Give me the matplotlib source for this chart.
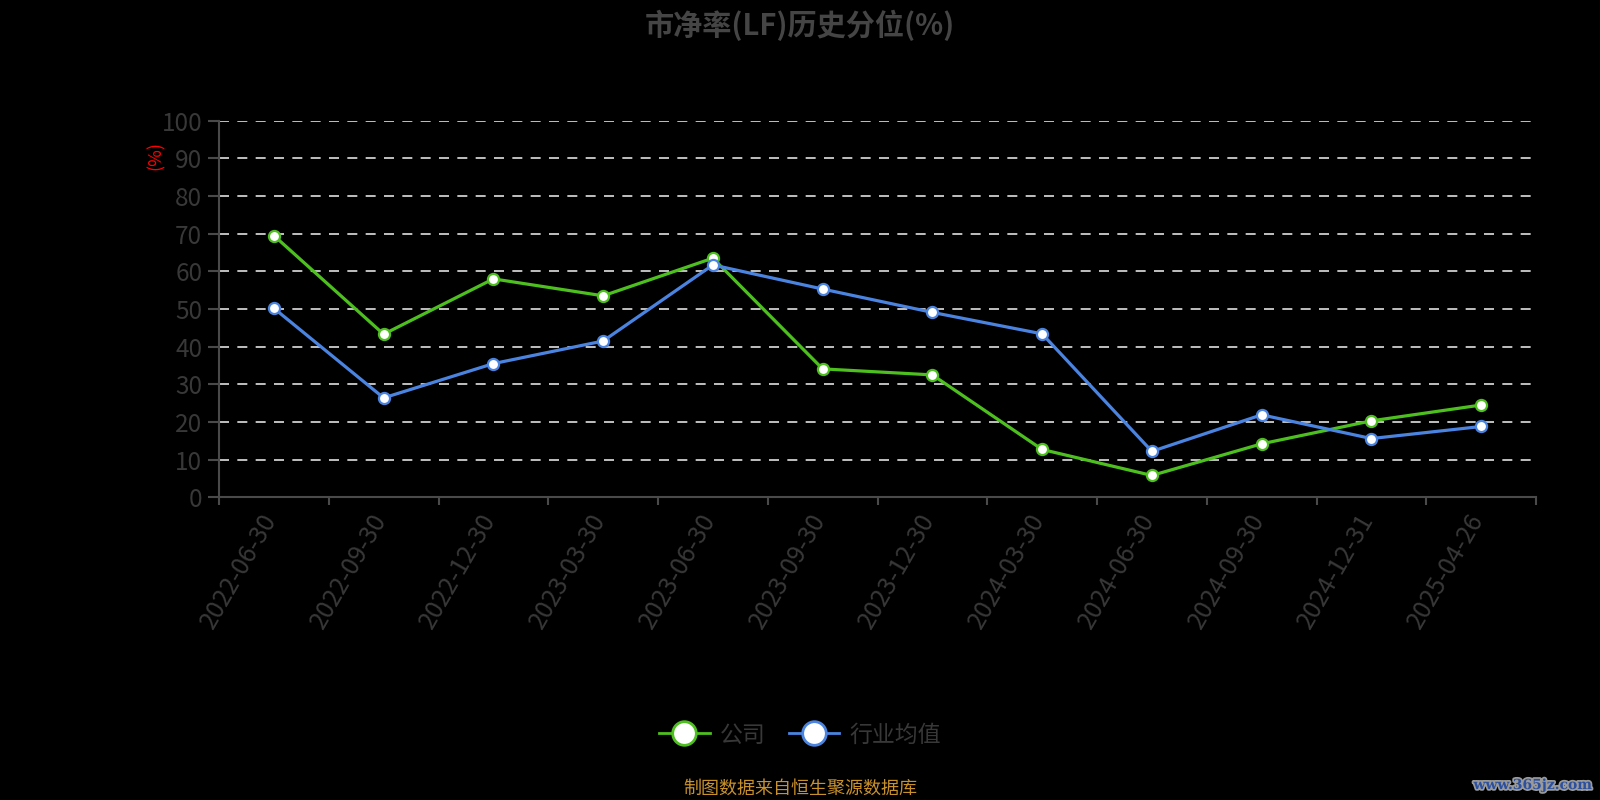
import matplotlib
matplotlib.use("Agg")
import matplotlib.pyplot as plt
from matplotlib.lines import Line2D
from matplotlib import transforms
import matplotlib.patheffects as pe

plt.rcParams['font.family'] = ['Noto Sans CJK SC', 'DejaVu Sans']

title = "市净率(LF)历史分位(%)"
dates = ["2022-06-30", "2022-09-30", "2022-12-30", "2023-03-30", "2023-06-30",
         "2023-09-30", "2023-12-30", "2024-03-30", "2024-06-30", "2024-09-30",
         "2024-12-31", "2025-04-26"]
company = [69.5, 43.3, 58.0, 53.5, 63.5, 34.1, 32.5, 12.7, 5.8, 14.2, 20.3, 24.5]
industry = [50.2, 26.4, 35.5, 41.5, 61.7, 55.3, 49.1, 43.4, 12.2, 21.9, 15.6, 18.8]
series_names = ["公司", "行业均值"]
yticks = [0, 10, 20, 30, 40, 50, 60, 70, 80, 90, 100]

GREEN = '#4dbf1f'
BLUE = '#4a84e0'
GRAY = '#383838'
AXIS = '#4a4a4a'

fig = plt.figure(figsize=(16, 8), dpi=100, facecolor='black')
ax = fig.add_axes([219/1600, 1-497.3/800, (1536-219)/1600, (497.3-120.7)/800])
ax.set_facecolor('black')

x = list(range(len(dates)))
for yv in yticks[1:]:
    ax.axhline(yv, color='#e0e0e0', lw=1.2, ls=(0, (6, 5)), zorder=1)

ax.plot(x, company, color=GREEN, lw=2.3, marker='o', ms=8, mfc='white',
        mec=GREEN, mew=1.6, zorder=3, solid_joinstyle='round')
ax.plot(x, industry, color=BLUE, lw=2.3, marker='o', ms=8, mfc='white',
        mec=BLUE, mew=1.6, zorder=3, solid_joinstyle='round')

ax.set_xlim(-0.5, len(dates)-0.5)
ax.set_ylim(0, 100)
ax.set_yticks(yticks)
ax.set_yticklabels([str(v) for v in yticks], color=GRAY, fontsize=17.5)
ax.tick_params(axis='y', length=8, width=1.5, color=AXIS, pad=4)
ax.set_xticks([i - 0.5 for i in range(len(dates)+1)])
ax.set_xticklabels([])
ax.tick_params(axis='x', length=6, width=1.5, color=AXIS)
for s in ['top', 'right']:
    ax.spines[s].set_visible(False)
for s in ['left', 'bottom']:
    ax.spines[s].set_color(AXIS)
    ax.spines[s].set_linewidth(1.5)

trans = transforms.blended_transform_factory(ax.transData, ax.transAxes)
trans = transforms.offset_copy(trans, fig=fig, x=-3, y=-18, units='dots')
for i, d in enumerate(dates):
    ax.text(i, 0, d, transform=trans, rotation=60, rotation_mode='anchor',
            ha='right', va='center', color=GRAY, fontsize=18)

fig.text(800/1600, 1-25/800, title, ha='center', va='center',
         fontsize=21, fontweight='bold', color='#454545')
fig.text(156/1600, 1-156/800, "(%)", ha='center', va='center', rotation=90,
         fontsize=13, color='red')

handles = [Line2D([0], [0], color=GREEN, lw=2, marker='o', ms=17, mfc='white', mec=GREEN, mew=2),
           Line2D([0], [0], color=BLUE, lw=2, marker='o', ms=17, mfc='white', mec=BLUE, mew=2)]
leg = fig.legend(handles, series_names, loc='center', bbox_to_anchor=(0.5, 1-735/800),
                 ncol=2, frameon=False, fontsize=16.5, handlelength=2.2,
                 handletextpad=0.45, columnspacing=1.0, borderpad=0)
for t in leg.get_texts():
    t.set_color(GRAY)

fig.text(800/1600, 1-789/800, "制图数据来自恒生聚源数据库", ha='center', va='center',
         fontsize=13, color='#c9912b')
fig.text(1592/1600, 1-785/800, "www.365jz.com", ha='right', va='center',
         fontsize=10, fontweight='bold', color='#2c4f9e', family='DejaVu Serif',
         path_effects=[pe.withStroke(linewidth=2.5, foreground='#9a9a9a')])

fig.savefig('out.png', dpi=100, facecolor='black')
